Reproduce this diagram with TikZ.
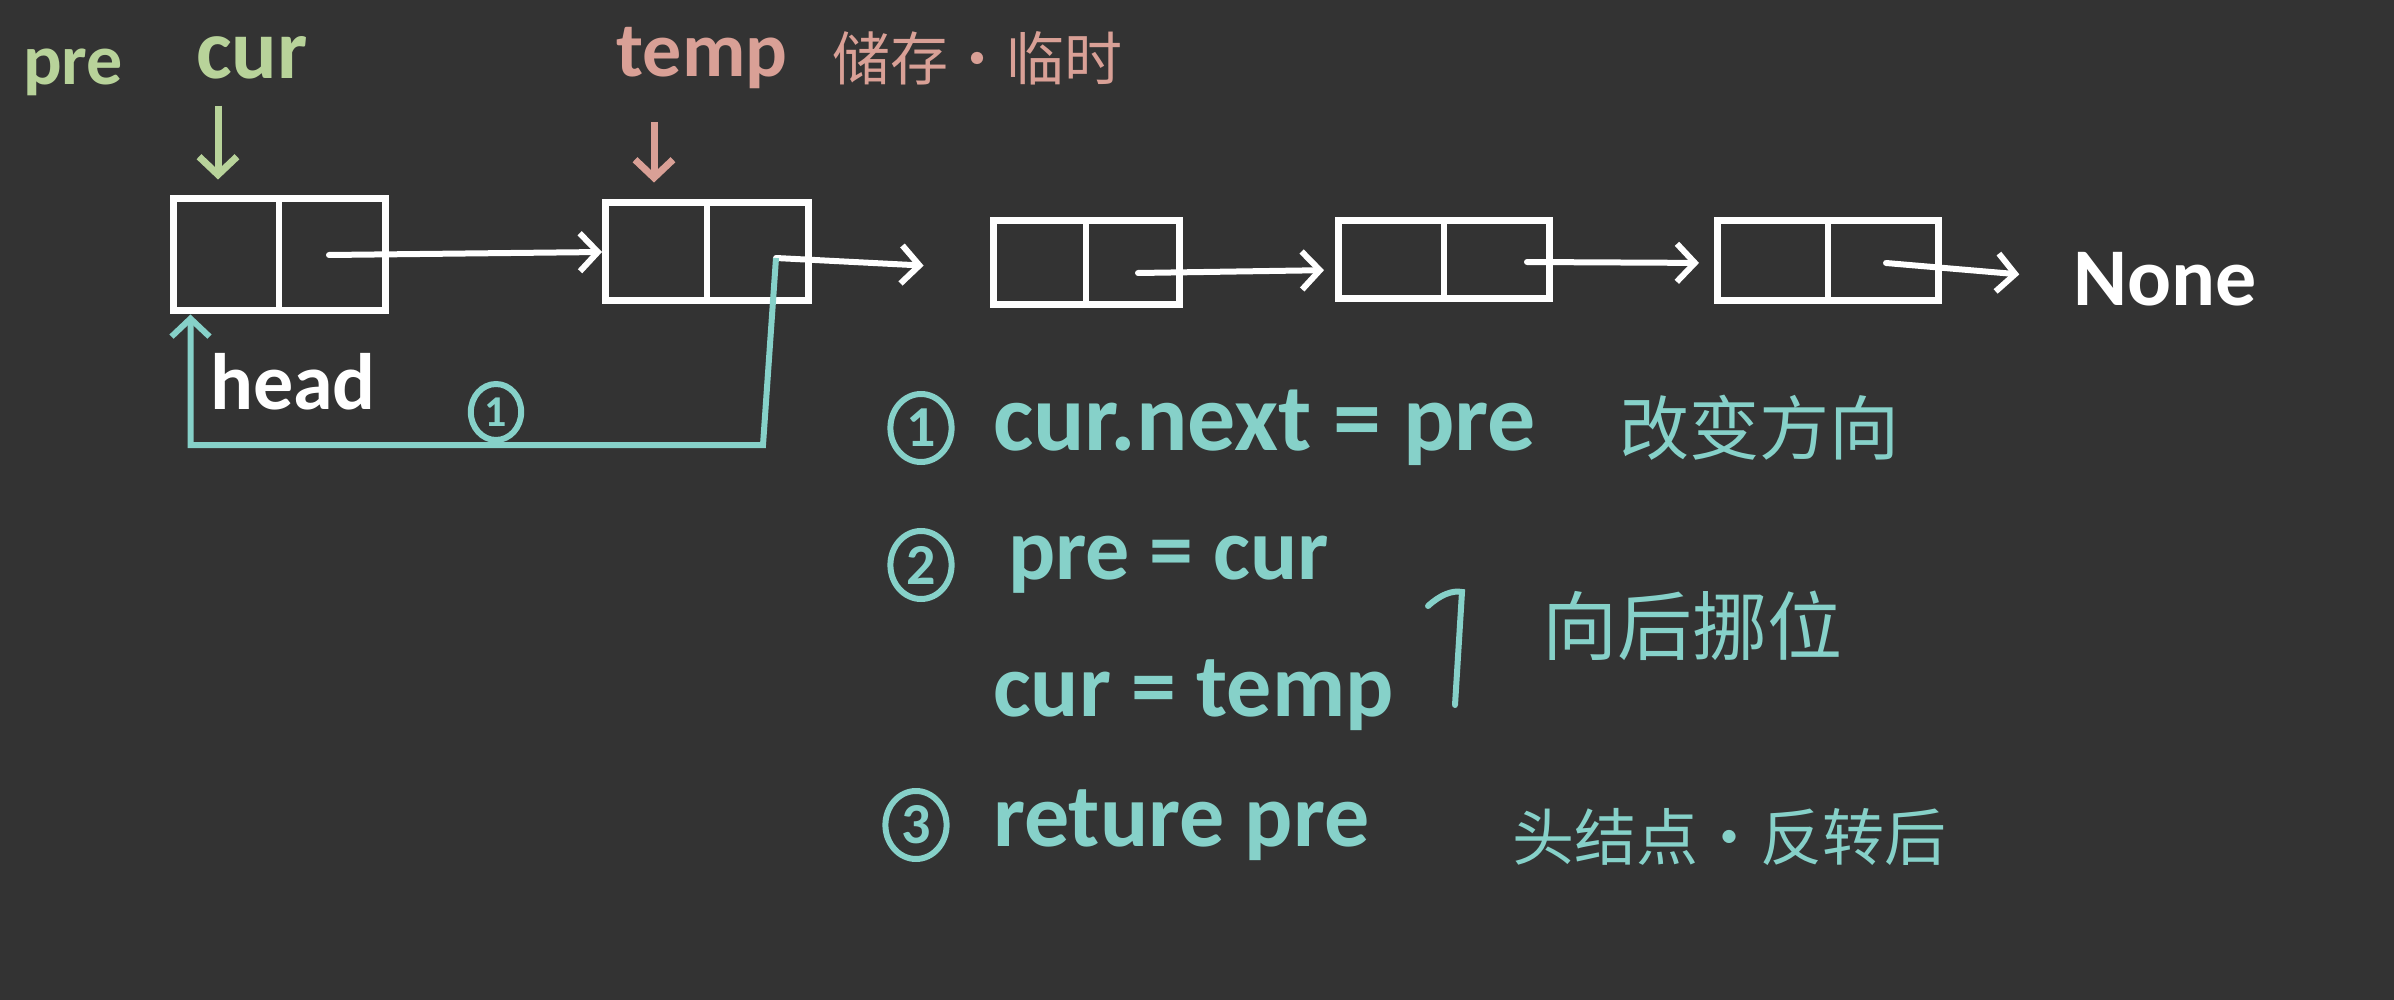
\documentclass[tikz,border=0pt]{standalone}
\usepackage{fontspec}
\setmainfont{Carlito}
\newfontfamily\cjk{Noto Sans CJK SC}
\usetikzlibrary{arrows.meta,positioning,shapes.geometric}
\definecolor{board}{HTML}{333333}
\definecolor{chalk}{HTML}{FFFFFF}
\definecolor{leaf}{HTML}{B8D39A}
\definecolor{rose}{HTML}{D9A096}
\definecolor{mint}{HTML}{86D1C9}

\begin{document}
\begin{tikzpicture}[x=1pt,y=-1pt,>={Straight Barb[length=18pt,width=38pt]},
 cell/.style={draw=chalk,line width=7pt,minimum width=205pt,minimum height=88pt,inner sep=0pt},
 link/.style={->,draw=chalk,line width=6pt,line cap=round},
 back/.style={->,draw=mint,line width=6pt},
 tag/.style={inner sep=0pt,font=\bfseries\fontsize{#1}{#1}\selectfont},
 hz/.style={inner sep=0pt,font=\cjk\fontsize{#1}{#1}\selectfont},
 num/.style={ellipse,draw=mint,text=mint,line width=6pt,inner sep=0pt,
   minimum width=0.9*#1pt,minimum height=#1pt}]
\fill[board] (0,0) rectangle (2394,1000);
\useasboundingbox (0,0) rectangle (2394,1000);
% list nodes
\node[cell,minimum width=212pt,minimum height=112pt] (n1) at (279,255) {};
\node[cell,minimum width=203pt,minimum height=98pt] (n2) at (707,252) {};
\node[cell,minimum width=186pt,minimum height=84pt] (n3) at (1086,263) {};
\node[cell,minimum width=211pt,minimum height=78pt] (n4) at (1444,260) {};
\node[cell,minimum width=221pt,minimum height=80pt] (n5) at (1828,261) {};
\foreach \i in {1,...,5}
  \draw[chalk,line width=6pt] (n\i.north) -- (n\i.south);
\node[tag=82,text=chalk] (none) at (2165,279) {None};
\draw[link] ([xshift=50pt]n1.center) -- (n2.west);
\draw[link,shorten >=66pt] ([xshift=69pt,yshift=-6pt]n2.center) -- ([yshift=-6pt]n3.west);
\draw[link,shorten >=11pt] ([xshift=52pt,yshift=-10pt]n3.center) -- ([yshift=-10pt]n4.west);
\draw[link,shorten >=15pt] ([xshift=83pt,yshift=-2pt]n4.center) -- ([yshift=-2pt]n5.west);
\draw[link,shorten >=54pt] ([xshift=58pt,yshift=-2pt]n5.center) -- (none.west);
% pointers
\node[tag=72,text=leaf] (pre) at (73,72) {pre};
\node[tag=85,text=leaf] (cur) at (252,58) {cur};
\node[tag=78,text=rose] (temp) at (702,58) {temp};
\node[hz=58,text=rose,anchor=west] (keep) at (832,58) {储存·临时};
\draw[->,leaf,line width=7pt] ([xshift=-34pt,yshift=-26pt]cur.south) -- ([xshift=-61pt,yshift=16pt]n1.north);
\draw[->,rose,line width=7pt] ([xshift=-48pt,yshift=-33pt]temp.south) -- ([xshift=-53pt,yshift=17pt]n2.north);
\node[tag=80,text=chalk] (head) at (293,382) {head};
% reverse link
\draw[back] ([xshift=69pt,yshift=-6pt]n2.center) -- ++(-13,187) -| ([xshift=21pt]n1.south west);
\node[num=56,tag=44] (o1) at (496,412) {1};
% steps
\node[num=68,tag=58] (s1) at (921,428) {1};
\node[tag=96,text=mint,anchor=west] (c1) at (993,428) {cur.next = pre};
\node[hz=70,text=mint,anchor=west] (d1) at (1619,428) {改变方向};
\node[num=68,tag=58] (s2) at (921,565) {2};
\node[tag=88,text=mint,anchor=west] (c2) at (1008,565) {pre = cur};
\node[tag=90,text=mint,anchor=west] (c3) at (993,695) {cur = temp};
\draw[mint,line width=6pt,line cap=round] (1428,606) .. controls (1440,595) and (1452,590) .. (1462,592) -- (1455,705);
\node[hz=75,text=mint,anchor=west] (d2) at (1542,626) {向后挪位};
\node[num=68,tag=58] (s3) at (916,825) {3};
\node[tag=90,text=mint,anchor=west] (c4) at (993,825) {reture pre};
\node[hz=62,text=mint,anchor=west] (d3) at (1512,837) {头结点·反转后};
\end{tikzpicture}
\end{document}
